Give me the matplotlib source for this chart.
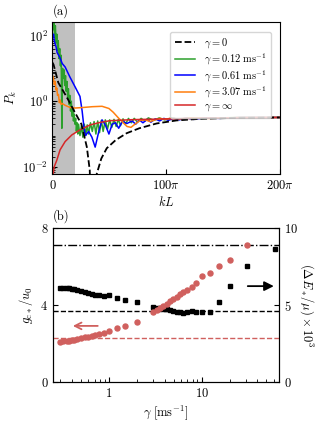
import matplotlib
matplotlib.use('Agg')
import matplotlib.pyplot as plt
import numpy as np

plt.rcParams['font.family'] = 'serif'
plt.rcParams['font.serif'] = ['cmr10']
plt.rcParams['mathtext.fontset'] = 'cm'
plt.rcParams['axes.formatter.use_mathtext'] = True
plt.rcParams['font.size'] = 9

# ---- panel (a): spectra P_k vs kL ----
kl_g0 = [0, 3, 16, 40, 60, 80, 95, 103, 111, 120, 135, 150, 175, 205, 240, 288, 343, 408, 500, 628]
pk_g0 = [15, 13, 3.7, 1.3, 0.5, 0.2, 0.04, 0.008, 1e-5, 0.005, 0.018, 0.037, 0.066, 0.106,
         0.15, 0.21, 0.26, 0.29, 0.31, 0.32]

kl_g012 = [0, 2, 4, 6, 8, 10, 12, 14, 16, 18, 20, 22, 24, 26, 28, 30, 32, 34, 36, 38, 40, 42,
           44, 46, 48, 50, 52, 54, 56, 58, 60, 62, 64, 66, 68, 70, 72, 76, 80, 84, 88, 92, 96,
           100, 105, 110, 115, 120, 125, 130, 135, 140, 146, 152, 158, 164, 170, 176, 182, 188,
           195, 202, 210, 218, 226, 235, 245, 255, 265, 280, 295, 310, 330, 350, 375, 410, 460,
           520, 628]
pk_g012 = [400, 150, 300, 90, 200, 60, 110, 35, 70, 20, 40, 12, 25, 0.15, 10, 5, 9, 3, 6, 2, 4,
           1.2, 2.4, 0.8, 1.5, 0.5, 1.0, 0.35, 0.6, 0.25, 0.4, 0.2, 0.3, 0.12, 0.22, 0.1, 0.2,
           0.09, 0.18, 0.08, 0.2, 0.09, 0.19, 0.1, 0.22, 0.12, 0.24, 0.1, 0.25, 0.11, 0.26, 0.12,
           0.27, 0.14, 0.27, 0.16, 0.28, 0.17, 0.28, 0.18, 0.29, 0.2, 0.3, 0.22, 0.3, 0.23, 0.3,
           0.25, 0.31, 0.26, 0.31, 0.27, 0.31, 0.28, 0.31, 0.3, 0.31, 0.32, 0.32]

kl_g061 = [0, 3, 5, 7.5, 10, 13, 20, 27, 35, 48, 62, 76, 82, 87, 91, 100, 109, 118, 128, 137,
           146, 156, 165, 174, 183, 193, 206, 220, 230, 240, 250, 262, 272, 284, 296, 308, 320,
           335, 350, 370, 390, 420, 460, 520, 628]
pk_g061 = [90, 110, 70, 55, 45, 30, 22, 14, 11, 5.5, 2.8, 1.4, 0.5, 0.16, 0.09, 0.12, 0.08,
           0.04, 0.12, 0.27, 0.19, 0.1, 0.2, 0.22, 0.15, 0.24, 0.21, 0.25, 0.2, 0.27, 0.22, 0.28,
           0.23, 0.29, 0.25, 0.3, 0.26, 0.3, 0.27, 0.31, 0.28, 0.31, 0.3, 0.32, 0.32]

kl_g307 = [0, 2.8, 5, 7.5, 10, 12, 14, 16.6, 19, 21, 24, 27, 35, 49, 63, 82, 110, 137, 156,
           168, 181, 192, 206, 217, 228, 242, 256, 270, 283, 297, 311, 325, 352, 380, 435, 518,
           628]
pk_g307 = [6, 5.2, 3.2, 4, 2.2, 2.5, 1.5, 1.6, 0.9, 1.1, 0.8, 0.85, 0.75, 0.64, 0.62, 0.64,
           0.68, 0.7, 0.6, 0.46, 0.32, 0.24, 0.17, 0.16, 0.2, 0.26, 0.27, 0.24, 0.27, 0.3, 0.28,
           0.3, 0.29, 0.31, 0.3, 0.32, 0.32]

kl_ginf = [0.5, 2.8, 4.7, 12, 21, 35, 53.5, 76, 104, 132, 159, 223, 325, 463, 628]
pk_ginf = [0.005, 0.007, 0.01, 0.016, 0.033, 0.059, 0.094, 0.134, 0.19, 0.226, 0.255, 0.275,
           0.29, 0.31, 0.32]

# ---- panel (b) ----
gamma = [0.3, 0.32, 0.35, 0.37, 0.4, 0.42, 0.45, 0.5, 0.55, 0.6, 0.65, 0.7, 0.78, 0.88, 1.0,
         1.22, 1.5, 2.0, 3.0, 3.27, 3.55, 3.85, 4.19, 4.55, 4.94, 5.37, 5.83, 6.34, 6.89, 7.8,
         8.68, 10.2, 12.3, 15.4, 20.2, 30.5, 62]
gc = [2.08, 2.10, 2.13, 2.15, 2.18, 2.20, 2.23, 2.27, 2.31, 2.35, 2.39, 2.44, 2.50, 2.56, 2.65,
      2.78, 2.91, 3.13, 3.62, 3.74, 3.86, 3.96, 4.07, 4.19, 4.31, 4.43, 4.55, 4.66, 4.78, 4.95,
      5.13, 5.52, 5.65, 6.04, 6.37, 7.15, np.nan]
dE = [6.08, 6.10, 6.12, 6.10, 6.05, 6.02, 5.98, 5.93, 5.87, 5.80, 5.72, 5.68, 5.65, 5.60, 5.65,
      5.44, 5.32, 5.21, 4.85, 4.83, 4.80, 4.76, 4.72, 4.68, 4.62, 4.57, 4.52, 4.50, 4.55, 4.60,
      4.52, 4.55, 4.55, 5.20, 6.23, 7.55, 8.68]
gc_ref = 2.27     # red dashed, left axis
dE_dash = 4.63    # black dashed, right axis
dE_dashdot = 8.94  # black dash-dot, right axis

red = '#d0605e'

fig = plt.figure(figsize=(3.3, 4.29), dpi=100)

# panel (a)
ax1 = fig.add_axes([0.159, 0.594, 0.689, 0.355])
ax1.axvspan(0, 20 * np.pi, color='#c0c0c0', lw=0, zorder=0)
ax1.plot(kl_g0, pk_g0, 'k--', lw=1.3, label=r'$\gamma = 0$', zorder=5)
ax1.plot(kl_g012, pk_g012, color='#2ca02c', lw=1.1, label=r'$\gamma = 0.12\ \mathrm{ms}^{-1}$')
ax1.plot(kl_g061, pk_g061, color='#0000ff', lw=1.1, label=r'$\gamma = 0.61\ \mathrm{ms}^{-1}$')
ax1.plot(kl_g307, pk_g307, color='#ff7f0e', lw=1.1, label=r'$\gamma = 3.07\ \mathrm{ms}^{-1}$')
ax1.plot(kl_ginf, pk_ginf, color='#d62728', lw=1.1, label=r'$\gamma = \infty$')
ax1.set_yscale('log')
ax1.set_xlim(0, 200 * np.pi)
ax1.set_ylim(6e-3, 2.6e2)
ax1.set_xticks([0, 100 * np.pi, 200 * np.pi])
ax1.set_xticklabels(['$0$', r'$100\pi$', r'$200\pi$'])
ax1.set_yticks([1e-2, 1, 1e2])
ax1.tick_params(which='both', direction='in')
ax1.set_xlabel('$kL$', labelpad=2)
ax1.set_ylabel('$P_k$', labelpad=2)
ax1.legend(loc='upper right', fontsize=7.5, handlelength=2.0, labelspacing=0.12,
           borderpad=0.45, handletextpad=0.8, bbox_to_anchor=(0.985, 0.97))
fig.text(0.16, 0.965, '(a)', fontsize=9)

# panel (b)
ax2 = fig.add_axes([0.161, 0.11, 0.684, 0.358])
ax3 = ax2.twinx()
ax3.axhline(dE_dashdot, color='k', ls='-.', lw=1.0)
ax3.axhline(dE_dash, color='k', ls='--', lw=1.0)
ax3.plot(gamma, dE, 's', color='k', ms=3.3)
ax2.axhline(gc_ref, color=red, ls='--', lw=1.0)
ax2.plot(gamma, gc, 'o', color=red, ms=3.6, zorder=5)
ax2.set_zorder(ax3.get_zorder() + 1)
ax2.patch.set_visible(False)
ax2.set_xscale('log')
ax2.set_xlim(0.25, 68)
ax2.set_ylim(0, 8)
ax3.set_ylim(0, 10)
ax2.set_yticks([0, 4, 8])
ax3.set_yticks([0, 5, 10])
ax2.set_xticks([1, 10])
ax2.set_xticklabels(['$1$', '$10$'])
ax2.tick_params(which='both', direction='in')
ax3.tick_params(which='both', direction='in')
ax2.set_xlabel(r'$\gamma\ [\mathrm{ms}^{-1}]$', labelpad=3)
ax2.set_ylabel(r'$g_{\mathrm{c}*}/u_0$', labelpad=4)
ax3.set_ylabel(r'$(\Delta E_*/\mu)\times 10^3$', rotation=270, labelpad=13)
ax2.annotate('', xy=(0.99, 0.623), xytext=(0.85, 0.623), xycoords='axes fraction',
             arrowprops=dict(arrowstyle='-|>', color='k', lw=1.3, mutation_scale=14))
ax2.annotate('', xy=(0.075, 0.364), xytext=(0.21, 0.364), xycoords='axes fraction',
             arrowprops=dict(arrowstyle='->', color=red, lw=1.3, mutation_scale=12))
fig.text(0.16, 0.487, '(b)', fontsize=9)

fig.savefig('out.png', dpi=100)
